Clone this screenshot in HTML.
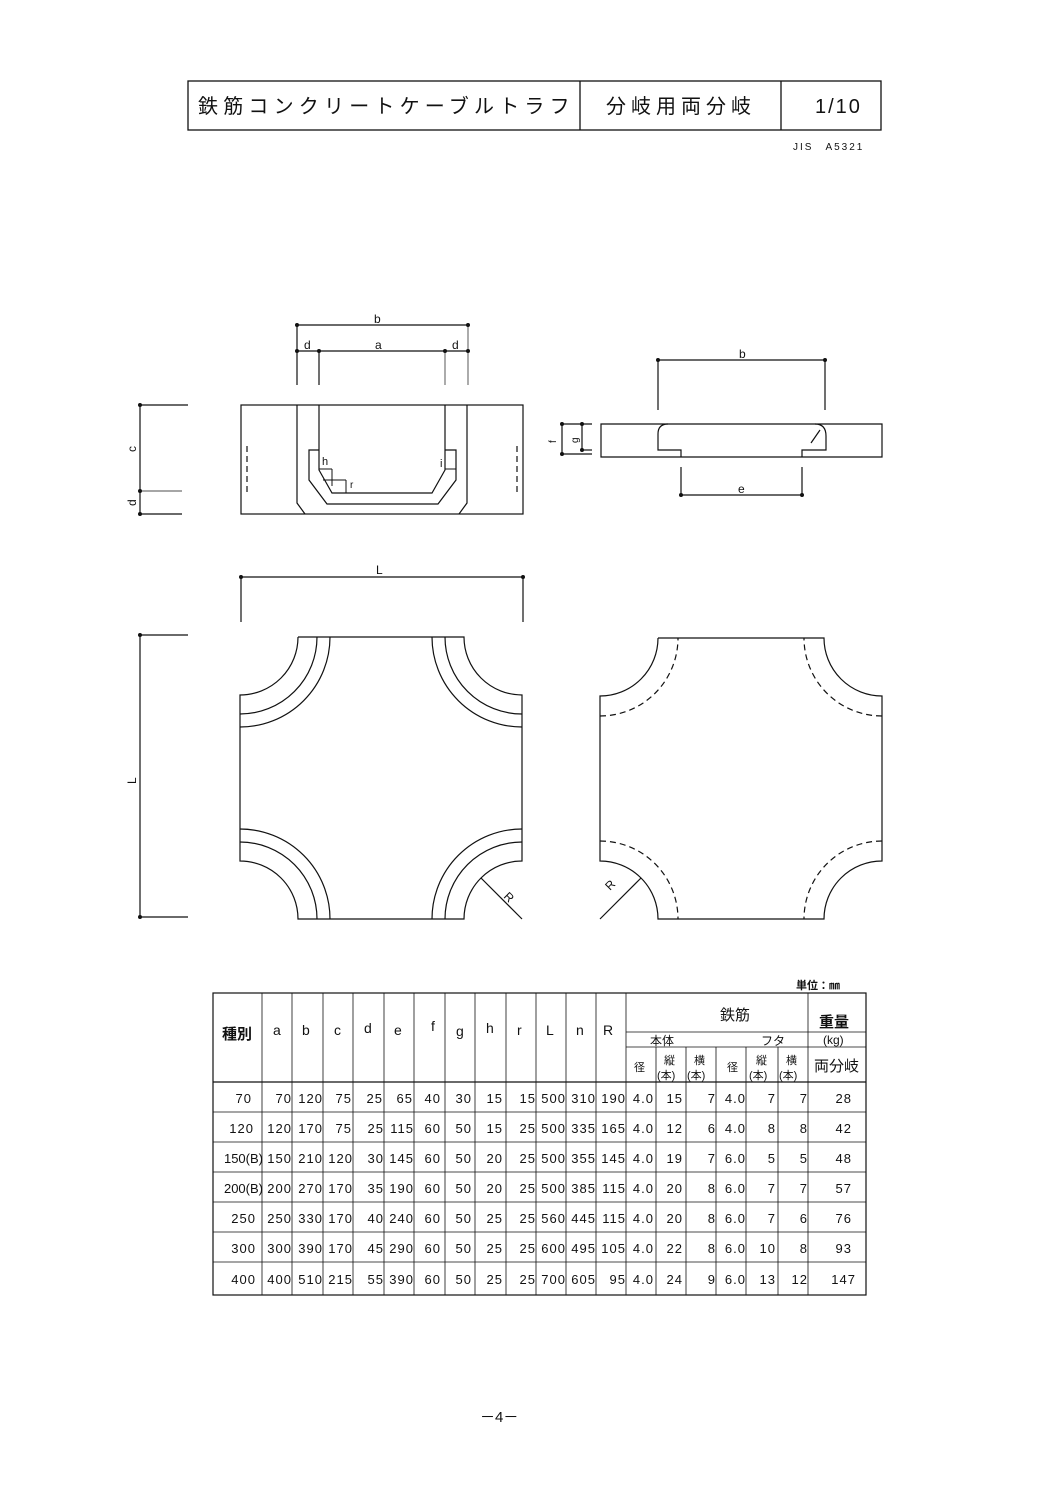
<!DOCTYPE html>
<html><head><meta charset="utf-8"><style>
html,body{margin:0;padding:0;background:#fff;}
svg{display:block;}
text{font-family:"Liberation Sans","Noto Sans CJK JP",sans-serif;fill:#111;}
</style></head><body>
<svg width="1058" height="1497" viewBox="0 0 1058 1497" xmlns="http://www.w3.org/2000/svg">
<g stroke="#111" fill="none" stroke-width="1.3">
<rect x="188" y="81" width="693" height="49"/>
<line x1="580" y1="81" x2="580" y2="130"/>
<line x1="781" y1="81" x2="781" y2="130"/>
</g>
<text x="198" y="113" font-size="20" letter-spacing="5.2">鉄筋コンクリートケーブルトラフ</text>
<text x="606" y="113" font-size="20" letter-spacing="5">分岐用両分岐</text>
<text x="815" y="113" font-size="20" letter-spacing="2">1/10</text>
<text x="793" y="150" font-size="10" letter-spacing="2">JIS　A5321</text>

<g stroke="#111" fill="none" stroke-width="1.2">
<rect x="241" y="405" width="282" height="109"/>
<path d="M297 405 V503 L305 514"/>
<path d="M467 405 V503 L459 514"/>
<path d="M319 405 V470 L332 493 H432 L445 470 V405"/>
<path d="M319 450 H309 V480 L327 504 H438 L456 480 V450 H445"/>
<path d="M247 446 V496 M517 446 V496" stroke-dasharray="6 4"/>
<path d="M319 469 H332 M332 469 V486 M323 480 H346 M346 480 V493" stroke-width="1"/>
<path d="M445 469 H456" stroke-width="1"/>
<line x1="297" y1="325" x2="468" y2="325"/>
<line x1="297" y1="351" x2="468" y2="351"/>
<line x1="297" y1="325" x2="297" y2="385"/>
<line x1="319" y1="351" x2="319" y2="385"/>
<line x1="445" y1="351" x2="445" y2="385" stroke-width="0.7"/>
<line x1="468" y1="325" x2="468" y2="385" stroke-width="0.7"/>
<line x1="140" y1="405" x2="140" y2="514"/>
<line x1="140" y1="405" x2="188" y2="405"/>
<line x1="140" y1="491" x2="182" y2="491" stroke-width="0.7"/>
<line x1="140" y1="514" x2="182" y2="514"/>
<path d="M601 424 H882 V457 H601 Z"/>
<path d="M668 424 Q658 424 658 434 V450 H681 V457"/>
<path d="M815 424 Q826 424 826 436 V450 H802 V457"/>
<line x1="658" y1="360" x2="825" y2="360"/>
<line x1="658" y1="360" x2="658" y2="410"/>
<line x1="825" y1="360" x2="825" y2="410"/>
<line x1="681" y1="495" x2="802" y2="495"/>
<line x1="681" y1="467" x2="681" y2="495"/>
<line x1="802" y1="467" x2="802" y2="495"/>
<line x1="562" y1="424" x2="562" y2="454"/>
<line x1="562" y1="424" x2="592" y2="424"/>
<line x1="562" y1="454" x2="592" y2="454"/>
<line x1="582" y1="424" x2="582" y2="450"/>
<line x1="582" y1="450" x2="592" y2="450"/>
<line x1="811" y1="443" x2="820" y2="430"/>
<line x1="241" y1="577" x2="523" y2="577"/>
<line x1="241" y1="577" x2="241" y2="622"/>
<line x1="523" y1="577" x2="523" y2="622"/>
<line x1="140" y1="635" x2="140" y2="917"/>
<line x1="140" y1="635" x2="188" y2="635"/>
<line x1="140" y1="917" x2="188" y2="917"/>
<!-- plan left -->
<path d="M298 637 H464 A58 58 0 0 0 522 695 V861 A58 58 0 0 0 464 919 H298 A58 58 0 0 0 240 861 V695 A58 58 0 0 0 298 637"/>
<path d="M240 727 A90 90 0 0 0 330 637 M240 714 A77 77 0 0 0 317 637"/>
<path d="M522 727 A90 90 0 0 1 432 637 M522 714 A77 77 0 0 1 445 637"/>
<path d="M240 829 A90 90 0 0 1 330 919 M240 842 A77 77 0 0 1 317 919"/>
<path d="M522 829 A90 90 0 0 0 432 919 M522 842 A77 77 0 0 0 445 919"/>
<line x1="522" y1="919" x2="481" y2="878"/>
<!-- plan right -->
<path d="M658 638 H824 A58 58 0 0 0 882 696 V861 A58 58 0 0 0 824 919 H658 A58 58 0 0 0 600 861 V696 A58 58 0 0 0 658 638"/>
<g stroke-dasharray="6 4">
<path d="M600 716 A78 78 0 0 0 678 638"/>
<path d="M882 716 A78 78 0 0 1 804 638"/>
<path d="M600 841 A78 78 0 0 1 678 919"/>
<path d="M882 841 A78 78 0 0 0 804 919"/>
</g>
<line x1="600" y1="919" x2="641" y2="878"/>
</g>
<g fill="#111">
<circle cx="297" cy="325" r="2"/><circle cx="468" cy="325" r="2"/>
<circle cx="297" cy="351" r="2"/><circle cx="319" cy="351" r="2"/><circle cx="445" cy="351" r="2"/><circle cx="468" cy="351" r="2"/>
<circle cx="140" cy="405" r="2"/><circle cx="140" cy="491" r="2"/><circle cx="140" cy="514" r="2"/>
<circle cx="658" cy="360" r="2"/><circle cx="825" cy="360" r="2"/>
<circle cx="681" cy="495" r="2"/><circle cx="802" cy="495" r="2"/>
<circle cx="562" cy="424" r="2"/><circle cx="562" cy="454" r="2"/><circle cx="582" cy="424" r="2"/><circle cx="582" cy="450" r="2"/>
<circle cx="241" cy="577" r="2"/><circle cx="523" cy="577" r="2"/>
<circle cx="140" cy="635" r="2"/><circle cx="140" cy="917" r="2"/>
</g>
<g font-size="12">
<text x="374" y="323">b</text>
<text x="304" y="349">d</text><text x="375" y="349">a</text><text x="452" y="349">d</text>
<text x="739" y="358">b</text><text x="738" y="493">e</text>
<text x="376" y="574">L</text>
<text x="322" y="465" font-size="11">h</text><text x="440" y="467" font-size="11">i</text><text x="350" y="488" font-size="10">r</text>
<text transform="translate(136,452) rotate(-90)">c</text>
<text transform="translate(136,506) rotate(-90)">d</text>
<text transform="translate(136,784) rotate(-90)">L</text>
<text transform="translate(556,443) rotate(-90)" font-size="10">f</text>
<text transform="translate(578,443) rotate(-90)" font-size="10">g</text>
<text transform="translate(503,897) rotate(45)">R</text>
<text transform="translate(610,891) rotate(-45)">R</text>
</g>
<text x="796" y="989" font-size="11" font-weight="bold">単位：㎜</text>
<g stroke="#111" fill="none" stroke-width="1.2">
<rect x="213" y="993" width="653" height="302"/>
<line x1="213" y1="1082" x2="866" y2="1082"/>
<g stroke-width="0.8">
<path d="M262 993V1295 M292 993V1295 M323 993V1295 M353 993V1295 M384 993V1295 M414 993V1295 M445 993V1295 M475 993V1295 M506 993V1295 M536 993V1295 M566 993V1295 M596 993V1295 M626 993V1295 M808 993V1295"/>
<path d="M656 1047V1295 M686 1047V1295 M716 1047V1295 M746 1047V1295 M778 1047V1295"/>
<path d="M626 1032H808 M626 1047H808 M808 1032H866 M808 1047H866"/>
<path d="M213 1112H866 M213 1142H866 M213 1172H866 M213 1202H866 M213 1232H866 M213 1262H866"/>
</g>
</g>
<g font-size="14">
<text x="222" y="1039" font-weight="bold" font-size="15">種別</text>
<text x="273" y="1035">a</text><text x="302" y="1035">b</text><text x="334" y="1035">c</text><text x="364" y="1033">d</text><text x="394" y="1035">e</text><text x="431" y="1031">f</text><text x="456" y="1036">g</text><text x="486" y="1033">h</text><text x="517" y="1035">r</text><text x="546" y="1035">L</text><text x="576" y="1035">n</text><text x="603" y="1035">R</text>
<text x="720" y="1020" font-size="15">鉄筋</text>
<text x="819" y="1027" font-size="15" font-weight="bold">重量</text>
<text x="823" y="1044" font-size="12">(kg)</text>
<text x="650" y="1045" font-size="12">本体</text>
<text x="761" y="1045" font-size="12">フタ</text>
<text x="634" y="1071" font-size="11">径</text>
<text x="727" y="1071" font-size="11">径</text>
<text x="664" y="1064" font-size="11">縦</text><text x="657" y="1079" font-size="11">(本)</text>
<text x="694" y="1064" font-size="11">横</text><text x="687" y="1079" font-size="11">(本)</text>
<text x="756" y="1064" font-size="11">縦</text><text x="749" y="1079" font-size="11">(本)</text>
<text x="786" y="1064" font-size="11">横</text><text x="779" y="1079" font-size="11">(本)</text>
<text x="814" y="1071" font-size="15">両分岐</text>
</g>
<g font-size="13" text-anchor="end" letter-spacing="1">
<text x="252" y="1103">70</text><text x="292" y="1103">70</text><text x="323" y="1103">120</text><text x="352" y="1103">75</text><text x="383" y="1103">25</text><text x="413" y="1103">65</text><text x="441" y="1103">40</text><text x="472" y="1103">30</text><text x="503" y="1103">15</text><text x="536" y="1103">15</text><text x="566" y="1103">500</text><text x="596" y="1103">310</text><text x="626" y="1103">190</text><text x="654" y="1103">4.0</text><text x="683" y="1103">15</text><text x="716" y="1103">7</text><text x="746" y="1103">4.0</text><text x="776" y="1103">7</text><text x="808" y="1103">7</text><text x="852" y="1103">28</text>
<text x="254" y="1133">120</text><text x="292" y="1133">120</text><text x="323" y="1133">170</text><text x="352" y="1133">75</text><text x="384" y="1133">25</text><text x="414" y="1133">115</text><text x="441" y="1133">60</text><text x="472" y="1133">50</text><text x="503" y="1133">15</text><text x="536" y="1133">25</text><text x="566" y="1133">500</text><text x="596" y="1133">335</text><text x="626" y="1133">165</text><text x="654" y="1133">4.0</text><text x="683" y="1133">12</text><text x="716" y="1133">6</text><text x="746" y="1133">4.0</text><text x="776" y="1133">8</text><text x="808" y="1133">8</text><text x="852" y="1133">42</text>
<text x="263" y="1163" letter-spacing="0">150(B)</text><text x="292" y="1163">150</text><text x="323" y="1163">210</text><text x="353" y="1163">120</text><text x="384" y="1163">30</text><text x="414" y="1163">145</text><text x="441" y="1163">60</text><text x="472" y="1163">50</text><text x="503" y="1163">20</text><text x="536" y="1163">25</text><text x="566" y="1163">500</text><text x="596" y="1163">355</text><text x="626" y="1163">145</text><text x="654" y="1163">4.0</text><text x="683" y="1163">19</text><text x="716" y="1163">7</text><text x="746" y="1163">6.0</text><text x="776" y="1163">5</text><text x="808" y="1163">5</text><text x="852" y="1163">48</text>
<text x="263" y="1193" letter-spacing="0">200(B)</text><text x="292" y="1193">200</text><text x="323" y="1193">270</text><text x="353" y="1193">170</text><text x="384" y="1193">35</text><text x="414" y="1193">190</text><text x="441" y="1193">60</text><text x="472" y="1193">50</text><text x="503" y="1193">20</text><text x="536" y="1193">25</text><text x="566" y="1193">500</text><text x="596" y="1193">385</text><text x="626" y="1193">115</text><text x="654" y="1193">4.0</text><text x="683" y="1193">20</text><text x="716" y="1193">8</text><text x="746" y="1193">6.0</text><text x="776" y="1193">7</text><text x="808" y="1193">7</text><text x="852" y="1193">57</text>
<text x="256" y="1223">250</text><text x="292" y="1223">250</text><text x="323" y="1223">330</text><text x="353" y="1223">170</text><text x="384" y="1223">40</text><text x="414" y="1223">240</text><text x="441" y="1223">60</text><text x="472" y="1223">50</text><text x="503" y="1223">25</text><text x="536" y="1223">25</text><text x="566" y="1223">560</text><text x="596" y="1223">445</text><text x="626" y="1223">115</text><text x="654" y="1223">4.0</text><text x="683" y="1223">20</text><text x="716" y="1223">8</text><text x="746" y="1223">6.0</text><text x="776" y="1223">7</text><text x="808" y="1223">6</text><text x="852" y="1223">76</text>
<text x="256" y="1253">300</text><text x="292" y="1253">300</text><text x="323" y="1253">390</text><text x="353" y="1253">170</text><text x="384" y="1253">45</text><text x="414" y="1253">290</text><text x="441" y="1253">60</text><text x="472" y="1253">50</text><text x="503" y="1253">25</text><text x="536" y="1253">25</text><text x="566" y="1253">600</text><text x="596" y="1253">495</text><text x="626" y="1253">105</text><text x="654" y="1253">4.0</text><text x="683" y="1253">22</text><text x="716" y="1253">8</text><text x="746" y="1253">6.0</text><text x="776" y="1253">10</text><text x="808" y="1253">8</text><text x="852" y="1253">93</text>
<text x="256" y="1284">400</text><text x="292" y="1284">400</text><text x="323" y="1284">510</text><text x="353" y="1284">215</text><text x="384" y="1284">55</text><text x="414" y="1284">390</text><text x="441" y="1284">60</text><text x="472" y="1284">50</text><text x="503" y="1284">25</text><text x="536" y="1284">25</text><text x="566" y="1284">700</text><text x="596" y="1284">605</text><text x="626" y="1284">95</text><text x="654" y="1284">4.0</text><text x="683" y="1284">24</text><text x="716" y="1284">9</text><text x="746" y="1284">6.0</text><text x="776" y="1284">13</text><text x="808" y="1284">12</text><text x="856" y="1284">147</text>
</g>
<text x="480" y="1422" font-size="15">－4－</text>
</svg>
</body></html>
